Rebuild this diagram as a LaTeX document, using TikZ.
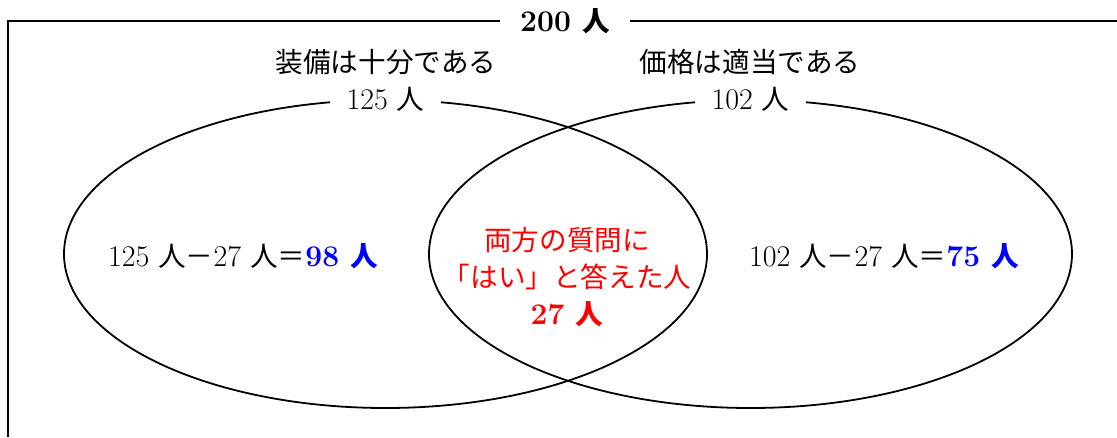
\documentclass[tikz,border=0pt]{standalone}
\usepackage{fontspec}
\newfontfamily\jpf[Scale=0.92]{Noto Sans CJK JP}
\newcommand\jt[1]{{\jpf #1}}
\usetikzlibrary{shapes.geometric}
\begin{document}
\begin{tikzpicture}[x=1pt,y=-1pt,line width=1.8pt,
  every node/.style={font=\fontsize{30}{37}\selectfont, inner sep=0pt},
  venn/.style={draw, ellipse, minimum width=643pt, minimum height=308pt, line width=1.8pt},
  gaplabel/.style={fill=white, inner xsep=17pt, inner ysep=4pt},
  setname/.style={},
  counttext/.style={},
  both/.style={text=red, align=center}]
\useasboundingbox (0,0) rectangle (1117,437);
% outer frame (universal set)
\coordinate (BL) at (8,437);
\coordinate (TL) at (8,21);
\coordinate (TR) at (1117,21);
\draw (BL) -- (TL) -- (TR);
\node[gaplabel, inner xsep=20pt] (total) at (565,21) {\bfseries 200 \jt{人}};
% sets
\node[venn] (A) at (385.5,254) {};
\node[venn] (B) at (750.5,254) {};
\node[gaplabel] (Acount) at (A.north) {125 \jt{人}};
\node[gaplabel] (Bcount) at (B.north) {102 \jt{人}};
\node[setname] (Aname) at (386,62) {\jt{装備は十分である}};
\node[setname] (Bname) at (750,62) {\jt{価格は適当である}};
% regions
\node[counttext] (Aonly) at (243,256) {125 \jt{人－}27 \jt{人＝}{\bfseries\color{blue}98 \jt{人}}};
\node[counttext] (Bonly) at (884,256) {102 \jt{人－}27 \jt{人＝}{\bfseries\color{blue}75 \jt{人}}};
\node[both] (AB) at (567,277) {\jt{両方の質問に}\\\jt{「はい」と答えた人}\\{\bfseries 27 \jt{人}}};
\end{tikzpicture}
\end{document}
